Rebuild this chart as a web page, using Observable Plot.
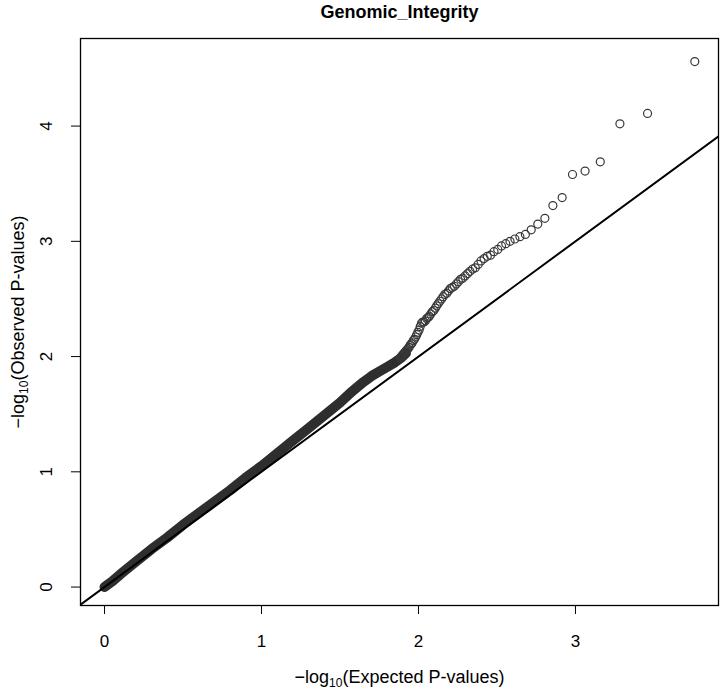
<!DOCTYPE html>
<html><head><meta charset="utf-8">
<script src="https://cdn.jsdelivr.net/npm/d3@7"></script>
<script src="https://cdn.jsdelivr.net/npm/@observablehq/plot@0.6"></script>
<style>body{margin:0;background:#fff;} svg{display:block}</style>
</head><body><div id="chart"></div>
<script>
const title = "Genomic_Integrity";
const xTitle = "−log10(Expected P-values)";
const yTitle = "−log10(Observed P-values)";
const xTicks = [0, 1, 2, 3];
const yTicks = [0, 1, 2, 3, 4];

// upper tail: individually visible points (expected, observed)
const tailX = [3.760, 3.459, 3.283, 3.158, 3.061, 2.981, 2.915, 2.856, 2.805, 2.760,
  2.718, 2.681, 2.646, 2.614, 2.583, 2.556, 2.529, 2.505, 2.481, 2.459,
  2.438, 2.418, 2.398, 2.380, 2.362, 2.345, 2.328, 2.313, 2.297, 2.282,
  2.268, 2.254, 2.241, 2.228, 2.215, 2.203, 2.191, 2.180, 2.168, 2.157,
  2.147, 2.136, 2.126, 2.116, 2.107, 2.097, 2.088, 2.078, 2.069, 2.061,
  2.052, 2.044, 2.035, 2.027, 2.019, 2.011, 2.004, 1.996, 1.989, 1.982,
  1.974, 1.967, 1.960, 1.954, 1.947, 1.940, 1.934, 1.927, 1.921, 1.915,
  1.909, 1.902, 1.896, 1.890, 1.885];
const tailY = [4.56, 4.11, 4.02, 3.69, 3.61, 3.58, 3.38, 3.31, 3.20, 3.15,
  3.10, 3.06, 3.04, 3.02, 3.00, 2.98, 2.96, 2.93, 2.91, 2.88,
  2.87, 2.85, 2.83, 2.80, 2.77, 2.76, 2.74, 2.72, 2.70, 2.68,
  2.67, 2.65, 2.63, 2.61, 2.60, 2.59, 2.57, 2.55, 2.54, 2.52,
  2.50, 2.48, 2.46, 2.44, 2.42, 2.40, 2.39, 2.37, 2.35, 2.34,
  2.33, 2.31, 2.30, 2.30, 2.29, 2.26, 2.23, 2.21, 2.19, 2.17,
  2.15, 2.14, 2.12, 2.11, 2.10, 2.08, 2.07, 2.06, 2.05, 2.04,
  2.03, 2.02, 2.01, 2.00, 1.99];

// dense bulk of points (overlapping into a solid band)
const bandX = [0, 0.05, 0.1, 0.2, 0.3, 0.4, 0.5, 0.6, 0.7, 0.8, 0.9, 1.0, 1.1, 1.2,
  1.3, 1.4, 1.5, 1.57, 1.65, 1.7, 1.75, 1.8, 1.85, 1.89, 1.92];
const bandY = [0, 0.05, 0.11, 0.22, 0.33, 0.43, 0.54, 0.64, 0.74, 0.84, 0.95, 1.05, 1.16, 1.27,
  1.38, 1.49, 1.60, 1.69, 1.78, 1.83, 1.87, 1.91, 1.95, 1.99, 2.03];

// reference line y = x
const refX = [-1, 5];
const refY = [-1, 5];

const tail = tailX.map((x, i) => ({x, y: tailY[i]}));
const band = bandX.map((x, i) => ({x, y: bandY[i]}));
const ref = refX.map((x, i) => ({x, y: refY[i]}));

const chart = Plot.plot({
  width: 720, height: 692,
  marginTop: 38, marginBottom: 87, marginLeft: 80, marginRight: 2,
  x: {domain: [-0.153, 3.911], axis: null},
  y: {domain: [-0.16, 4.76], axis: null},
  style: {fontFamily: "'Liberation Sans', Arial, sans-serif", background: "#fff", color: "#000"},
  marks: [
    Plot.line(band, {x: "x", y: "y", stroke: "#2e2e2e", strokeWidth: 10, strokeLinecap: "round", strokeLinejoin: "round"}),
    Plot.dot(tail, {x: "x", y: "y", r: 4, stroke: "#383838", strokeWidth: 1.2, fill: "none"}),
    Plot.line(ref, {x: "x", y: "y", stroke: "#000", strokeWidth: 2, clip: true}),
    Plot.frame({stroke: "#000", strokeWidth: 1.3}),
    Plot.axisX({ticks: xTicks, tickSize: 9, tickPadding: 20, fontSize: 17, label: null, tickFormat: d => String(d)}),
    Plot.axisY({ticks: yTicks, tickSize: 9, tickFormat: () => "", label: null}),
    Plot.text(yTicks, {y: d => d, frameAnchor: "left", dx: -34, rotate: -90, textAnchor: "middle", lineAnchor: "middle", text: d => String(d), fontSize: 17}),
    Plot.text([title], {frameAnchor: "top", dy: -26, lineAnchor: "middle", text: d => d, fontSize: 18, fontWeight: "bold"}),
    Plot.text([xTitle], {frameAnchor: "bottom", dy: 72, lineAnchor: "middle", text: d => d, fontSize: 18}),
    Plot.text([yTitle], {frameAnchor: "left", dx: -62, rotate: -90, textAnchor: "middle", lineAnchor: "middle", text: d => d, fontSize: 18})
  ]
});
document.getElementById("chart").appendChild(chart);

// subscript "10" in the axis titles
d3.select(chart).selectAll("text").each(function() {
  const t = this.textContent;
  if (t === xTitle || t === yTitle) {
    const rest = t.slice("−log10".length);
    const sel = d3.select(this);
    sel.text(null);
    sel.append("tspan").text("−log");
    sel.append("tspan").attr("dy", 4).attr("font-size", 12).text("10");
    sel.append("tspan").attr("dy", -4).text(rest);
  }
});
</script>
</body></html>
